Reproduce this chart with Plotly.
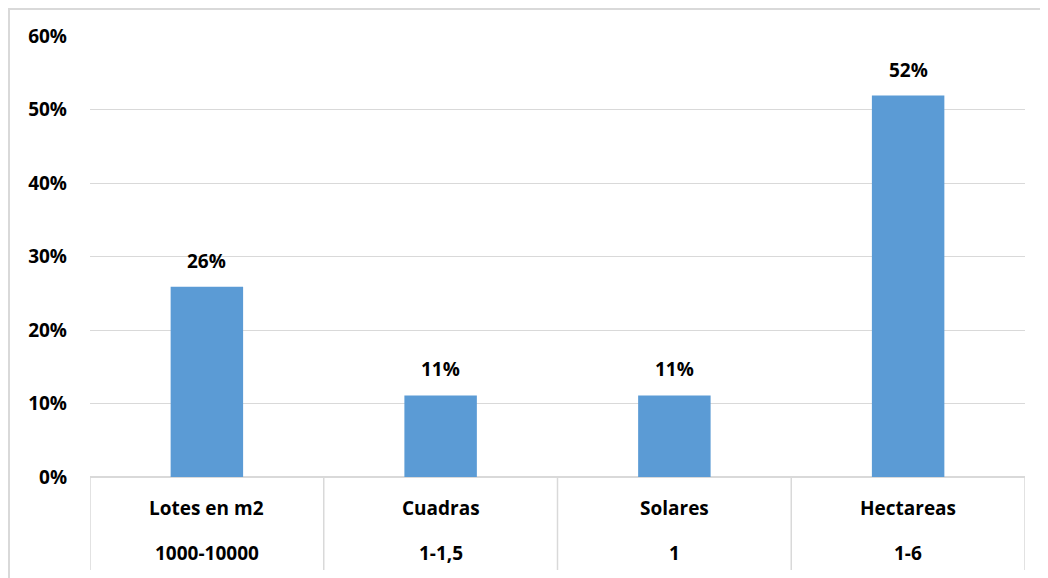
import plotly.graph_objects as go

categories = ["Lotes en m2", "Cuadras", "Solares", "Hectareas"]
ranges = ["1000-10000", "1-1,5", "1", "1-6"]
values = [0.259, 0.111, 0.111, 0.519]
labels = ["26%", "11%", "11%", "52%"]
yticks = [0, 0.1, 0.2, 0.3, 0.4, 0.5, 0.6]

# page is offset by the default 8px body margin
OFF = 8
W, H = 1048, 578
ml, mr, mt, mb = 90 - OFF, 31, 36 - OFF, 109
pw, ph = W - ml - mr, H - mt - mb
y0px = 477 - OFF  # zero line in figure px

FONT = "Open Sans"
GRID = "#d9d9d9"
FS = 19

fig = go.Figure()
xs = list(range(len(categories)))
fig.add_trace(go.Bar(x=xs, y=values, marker=dict(color="#5B9BD5", line=dict(width=0)),
                     width=0.31, hoverinfo="skip"))

annotations = []
for i, (v, lab) in enumerate(zip(values, labels)):
    annotations.append(dict(x=i, y=v, text=lab, showarrow=False, yanchor="bottom",
                            yshift=11, font=dict(family=FONT, size=FS, color="black")))
    annotations.append(dict(x=i, y=-(508 - 477) / ph, yref="paper", text=categories[i],
                            showarrow=False, yanchor="middle",
                            font=dict(family=FONT, size=FS, color="black")))
    annotations.append(dict(x=i, y=-(553 - 477) / ph, yref="paper", text=ranges[i],
                            showarrow=False, yanchor="middle",
                            font=dict(family=FONT, size=FS, color="black")))

shapes = []
for k in range(len(categories) + 1):
    shapes.append(dict(type="line", xref="x", yref="paper", x0=k - 0.5, x1=k - 0.5,
                       y0=0, y1=-(570 - 477) / ph, line=dict(color=GRID, width=1.5)))
# chart frame
shapes.append(dict(type="rect", xref="paper", yref="paper",
                   x0=-(ml - 1) / pw, x1=(W + 5 - ml) / pw,
                   y0=-(H + 5 - (H - mb)) / ph, y1=1 + (mt - 1) / ph,
                   line=dict(color=GRID, width=2), fillcolor="rgba(0,0,0,0)"))

fig.update_layout(
    width=W, height=H,
    margin=dict(l=ml, r=mr, t=mt, b=mb),
    paper_bgcolor="white", plot_bgcolor="white",
    showlegend=False,
    annotations=annotations,
    shapes=shapes,
    xaxis=dict(range=[-0.5, len(categories) - 0.5], showticklabels=False, showgrid=False,
               zeroline=False, showline=False, fixedrange=True),
    yaxis=dict(range=[0, 0.6], tickvals=yticks, tickformat=".0%", showgrid=True,
               gridcolor=GRID, gridwidth=1, zeroline=True, zerolinecolor=GRID,
               zerolinewidth=1.5, showline=False, ticks="", ticklabelstandoff=22,
               tickfont=dict(family=FONT, size=FS, color="black")),
    font=dict(family=FONT),
)
fig.update_yaxes(tickfont_weight="bold")
for a in fig.layout.annotations:
    a.font.weight = "bold"

fig.write_html("out.html")
